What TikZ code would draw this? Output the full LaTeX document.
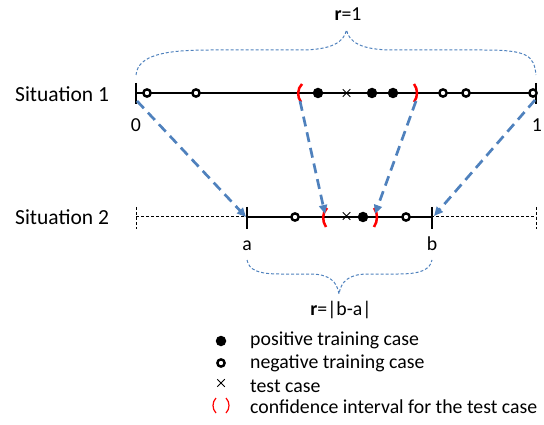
\documentclass[tikz,border=0pt]{standalone}
\usepackage{fontspec}
\setmainfont{Carlito}
\usetikzlibrary{arrows.meta,shapes.misc}
\definecolor{myblue}{HTML}{4F81BD}
\begin{document}
\begin{tikzpicture}[x=1pt,y=-1pt,
  lbl/.style={font=\fontsize{19.8}{22}\selectfont, inner sep=0pt, anchor=base},
  lblw/.style={lbl, anchor=base west},
  sitlbl/.style={font=\fontsize{21.5}{24}\selectfont, inner sep=0pt, anchor=base west},
  axis/.style={line width=1.2pt},
  dashaxis/.style={line width=1pt, dash pattern=on 3pt off 2pt},
  posdot/.style={circle, fill=black, minimum size=10.5pt, inner sep=0pt},
  negdot/.style={circle, draw=black, line width=2.4pt, minimum size=7.3pt, inner sep=0pt, fill=white},
  testx/.style={cross out, draw=black, line width=1pt, minimum size=6.5pt, inner sep=0pt},
  mapping/.style={myblue, line width=2.7pt, dash pattern=on 10pt off 6pt, -{Triangle[length=9pt,width=8pt]}},
  bracecurve/.style={myblue, line width=1pt, dash pattern=on 3pt off 2pt},
  ci/.style={red, line width=2.5pt},
  cilegend/.style={red, line width=1.2pt},
]
\useasboundingbox (0,0) rectangle (544,425);

% ---------- Situation 1 ----------
\node[sitlbl] (sit1) at (15,102) {Situation 1};
\coordinate (s1L) at (136,93);
\coordinate (s1R) at (536,93);
\draw[axis] (s1L) -- (s1R);
\draw[axis] (136,83) -- (136,104);
\draw[axis] (536,83) -- (536,104);
\node[lbl] (zero) at (136,132) {0};
\node[lbl] (one) at (537,132) {1};

\node[negdot] (n1) at (147,93) {};
\node[negdot] (n2) at (196,93) {};
\node[negdot] (n3) at (443,93) {};
\node[negdot] (n4) at (466,93) {};
\node[negdot] (n5) at (533,93) {};
\node[posdot] (p1) at (318,93) {};
\node[posdot] (p2) at (372,93) {};
\node[posdot] (p3) at (393,93) {};
\node[testx] (t1) at (346.5,93) {};
\draw[ci] (302,84) .. controls (297,89) and (297,97) .. (301,102);
\draw[ci] (414,84) .. controls (418,89) and (418,97) .. (414,102);
\coordinate (c1L) at (300,101);
\coordinate (c1R) at (416,101);

% top brace
\draw[bracecurve] (136,75) .. controls (138,55) and (165,50) .. (210,50) -- (300,50)
  .. controls (332,50) and (344,42) .. (346.5,30)
  .. controls (349,42) and (361,50) .. (393,50) -- (483,50)
  .. controls (527,50) and (534,55) .. (536,75);
\node[lbl] (r1) at (348,21) {\textbf{r}=1};

% ---------- Situation 2 ----------
\node[sitlbl] (sit2) at (15,225) {Situation 2};
\draw[dashaxis] (136,217) -- (536,217);
\draw[dashaxis] (136,207) -- (136,229);
\draw[dashaxis] (536,207) -- (536,229);
\coordinate (a) at (247,217);
\coordinate (b) at (432,217);
\draw[axis] (a) -- (b);
\draw[axis] (247,207) -- (247,229);
\draw[axis] (432,207) -- (432,229);
\node[lbl] (alab) at (247,251) {a};
\node[lbl] (blab) at (432,251) {b};

\node[negdot] (m1) at (295,217) {};
\node[negdot] (m2) at (406,217) {};
\node[posdot] (q1) at (363,217) {};
\node[testx] (t2) at (346.5,216) {};
\draw[ci] (327,208) .. controls (322,213) and (322,221) .. (326,227);
\draw[ci] (374,208) .. controls (378,213) and (378,221) .. (374,227);
\coordinate (c2L) at (325,214);
\coordinate (c2R) at (375,214);

% bottom brace
\draw[bracecurve] (247,260) .. controls (249,270) and (258,274) .. (280,274) -- (310,274)
  .. controls (330,274) and (337,282) .. (339,294)
  .. controls (341,282) and (348,274) .. (368,274) -- (398,274)
  .. controls (420,274) and (430,270) .. (432,260);
\node[lbl] (r2) at (341,315) {\textbf{r}=|b-a|};

% ---------- mappings ----------
\draw[mapping] (137,101) -- (246,217);
\draw[mapping] (c1L) -- (c2L);
\draw[mapping] (c1R) -- (c2R);
\draw[mapping] (535,100) -- (434,216);

% ---------- legend ----------
\node[posdot] (lp) at (221,341) {};
\node[negdot] (ln) at (221,363) {};
\node[testx] (lt) at (221,383) {};
\draw[cilegend] (216,398) .. controls (212,402) and (212,409) .. (216,413);
\draw[cilegend] (226,398) .. controls (230,402) and (230,409) .. (226,413);
\node[lblw] (lpt) at (250,345.5) {positive training case};
\node[lblw] (lnt) at (250,368) {negative training case};
\node[lblw] (ltt) at (250,392.5) {test case};
\node[lblw] (lct) at (250,413) {confidence interval for the test case};
\end{tikzpicture}
\end{document}
